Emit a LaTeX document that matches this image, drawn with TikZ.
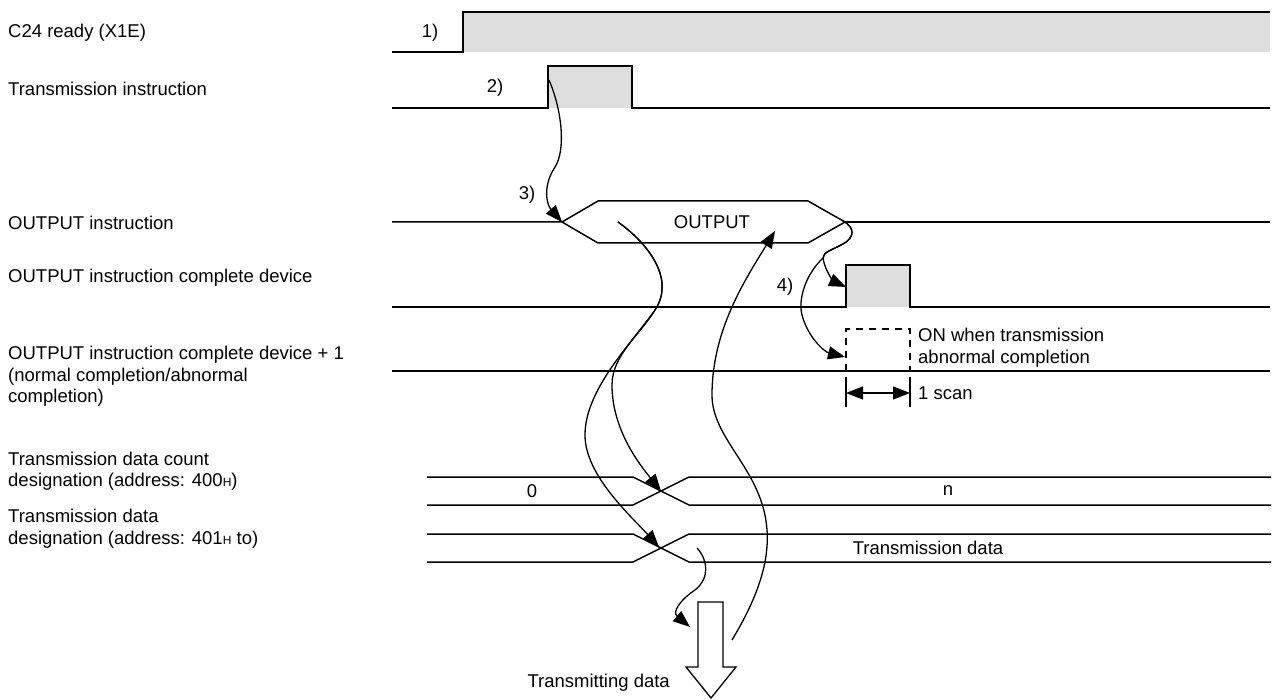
\documentclass[tikz,border=0pt]{standalone}
\usepackage{fontspec}
\setmainfont{Liberation Sans}
\usetikzlibrary{arrows.meta,positioning}
\newcommand{\hsub}{{\fontsize{12}{12}\selectfont H}}

\begin{document}
\begin{tikzpicture}[x=1pt,y=-1pt,font=\fontsize{18.5}{21.5}\selectfont,
  sig/.style={line width=1.5pt},
  on/.style={fill=black!13},
  flow/.style={line width=1.3pt,-{Triangle[length=17pt,width=13pt]}},
  lbl/.style={anchor=west,align=left,inner sep=0pt}]
  \useasboundingbox (0,0) rectangle (1279,700);
  \node[lbl] (rdy) at (8,33) {C24 ready (X1E)};
  \node[lbl] (req) at (8,89) {Transmission instruction};
  \node[lbl] (outi) at (8,223) {OUTPUT instruction};
  \node[lbl] (cmp) at (8,278) {OUTPUT instruction complete device};
  \node[lbl] (cmpa) at (8,376.5) {OUTPUT instruction complete device + 1\\(normal completion/abnormal\\completion)};
  \node[lbl] (cnt) at (8,471) {Transmission data count\\designation (address: 400\hsub)};
  \node[lbl] (dat) at (8,528.5) {Transmission data\\designation (address: 401\hsub{} to)};
  \begin{scope}
    \fill[on] (463,12) rectangle (1270,52);
    \draw[sig] (392,52) -- (463,52) -- (463,12) -- (1270,12);
    \node (n1) at (430,33) {1)};
    \fill[on] (548,66) rectangle (632,108);
    \draw[sig] (392,108) -- (548,108) |- (632,66) -- (632,108) -- (1270,108);
    \node (n2) at (495,88) {2)};
  \end{scope}
  \begin{scope}
    \draw[sig] (392,222) -- (562,222) -- (598,201) -- (808,201) -- (845,222)
      -- (808,243) -- (598,243) -- (562,222);
    \draw[sig] (845,222) -- (1270,222);
    \node (outtx) at (712,222) {OUTPUT};
    \node (n3) at (527,195) {3)};
    \fill[on] (846,265) rectangle (910,307);
    \draw[sig] (392,307) -- (846,307) |- (910,265) -- (910,307) -- (1270,307);
    \node (n4) at (785,287) {4)};
    \draw[sig] (392,371) -- (1270,371);
    \draw[line width=1.3pt, dash pattern=on 7pt off 6pt] (846,371) |- (910,329) -- (910,371);
    \node[lbl] (abn) at (918,347.5) {ON when transmission\\abnormal completion};
    \draw[line width=1.3pt] (846,377) -- (846,407) (910,377) -- (910,407);
    \draw[line width=1.3pt, {Triangle[length=17pt,width=13pt]}-{Triangle[length=17pt,width=13pt]}]
      (846,393) -- (910,393);
    \node[lbl] (scan) at (918,393) {1 scan};
  \end{scope}
  \foreach \t/\b in {477/505, 534/562} {
    \draw[sig] (427,\t) -- (633,\t) -- (689,\b) -- (1271,\b);
    \draw[sig] (427,\b) -- (633,\b) -- (689,\t) -- (1271,\t);
  }
  \node (zero) at (532,491) {0};
  \node (nval) at (948,491) {n};
  \node (dtx) at (928,548) {Transmission data};
  \draw[line width=1.3pt, fill=white] (698,602) -- (723,602) -- (723,667) -- (736,667)
    -- (711,698) -- (686,667) -- (698,667) -- cycle;
  \node[anchor=east, inner sep=0pt] (tx) at (670,683) {Transmitting data};
  \coordinate (a0) at (549,80);
  \coordinate (a1) at (562,222);
  \coordinate (b0) at (618,222);
  \coordinate (b1) at (661,491);
  \coordinate (b2) at (659,547);
  \coordinate (c0) at (732,640);
  \coordinate (c1) at (775,231);
  \coordinate (d0) at (843,221);
  \coordinate (d1) at (846,287);
  \coordinate (d2) at (845,357);
  \coordinate (e0) at (697,548);
  \coordinate (e1) at (690,627);
  \draw[flow] (a0) .. controls (562,110) and (566,150) .. (555,167)
    .. controls (542,187) and (547,205) .. (a1);
  \draw[flow] (b0) .. controls (650,245) and (675,280) .. (655,310)
    .. controls (640,335) and (612,355) .. (612,385)
    .. controls (612,430) and (640,465) .. (b1);
  \draw[flow] (b0) .. controls (650,245) and (675,280) .. (655,310)
    .. controls (630,345) and (585,390) .. (585,435)
    .. controls (585,475) and (630,515) .. (b2);
  \draw[flow] (c0) .. controls (750,610) and (770,570) .. (767,530)
    .. controls (763,470) and (712,440) .. (712,395)
    .. controls (712,330) and (745,280) .. (c1);
  \draw[flow] (d0) .. controls (856,228) and (854,238) .. (843,244)
    .. controls (832,250) and (823,252) .. (823,258)
    .. controls (825,272) and (835,282) .. (d1);
  \draw[flow] (d0) .. controls (856,228) and (854,238) .. (843,244)
    .. controls (832,250) and (823,252) .. (823,258)
    .. controls (805,275) and (798,300) .. (802,315)
    .. controls (808,338) and (825,352) .. (d2);
  \draw[flow] (e0) .. controls (708,560) and (710,578) .. (695,590)
    .. controls (680,600) and (672,612) .. (e1);
\end{tikzpicture}
\end{document}
